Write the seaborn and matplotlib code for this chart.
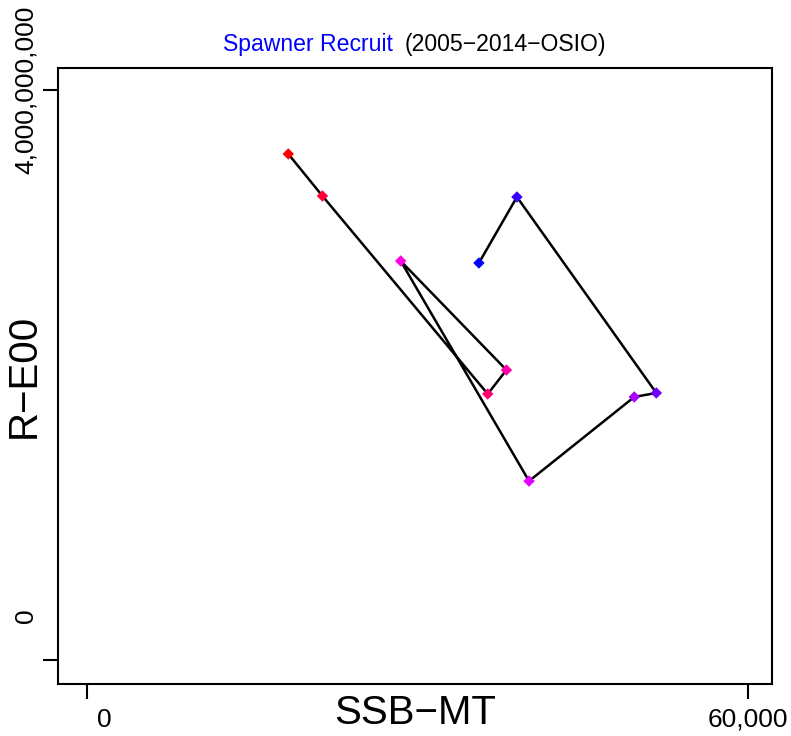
import numpy as np
import pandas as pd
import matplotlib
matplotlib.use("Agg")
import matplotlib.pyplot as plt
import matplotlib.transforms as mtransforms
import seaborn as sns

# donnees (2005-2014)
years = [2005, 2006, 2007, 2008, 2009, 2010, 2011, 2012, 2013, 2014]
ssb = [18300, 21400, 36400, 38100, 28500, 40150, 49700, 51700, 39050, 35600]
recruits = [3.551e9, 3.256e9, 1.867e9, 2.035e9, 2.800e9, 1.256e9, 1.846e9, 1.874e9, 3.249e9, 2.786e9]
year_colors = ["#FF0000", "#FF0038", "#FF0071", "#FF00AA", "#FF00E2",
               "#E200FF", "#AA00FF", "#7100FF", "#3800FF", "#0000FF"]

x_ticks = [0, 60000]
x_tick_labels = ["0", "60,000"]
y_ticks = [0, 4e9]
y_tick_labels = ["0", "4,000,000,000"]

df = pd.DataFrame({"year": years, "ssb": ssb, "rec": recruits})

sns.set_style("white")
plt.rcParams['font.family'] = ['Liberation Sans', 'DejaVu Sans']
plt.rcParams['text.color'] = 'black'
plt.rcParams['axes.labelcolor'] = 'black'

fig = plt.figure(figsize=(7.91, 7.36), dpi=100)
ax = fig.add_axes([58 / 791, 1 - 684 / 736, 714 / 791, 616 / 736])

sns.lineplot(data=df, x="ssb", y="rec", sort=False, estimator=None,
             color="black", lw=1.8, ax=ax)
sns.scatterplot(data=df, x="ssb", y="rec", hue="year",
                palette=dict(zip(years, year_colors)), marker="D", s=34,
                linewidth=0, legend=False, ax=ax, zorder=3)

ax.set_xlim(-2600, 62200)
ax.set_ylim(-0.168e9, 4.154e9)

for sp in ax.spines.values():
    sp.set_visible(True)
    sp.set_color("black")
    sp.set_linewidth(1.5)

ax.set_xticks(x_ticks)
ax.set_yticks(y_ticks)
ax.set_xticklabels([])
ax.set_yticklabels([])
ax.tick_params(axis="both", direction="out", length=11, width=1.5,
               color="black", bottom=True, left=True)

# etiquettes des graduations (placees comme dans R)
xt = ax.get_xaxis_transform()
yt = ax.get_yaxis_transform()
off = mtransforms.offset_copy(xt, fig=fig, x=10, y=-24, units="dots")
ax.text(x_ticks[0], 0, x_tick_labels[0], transform=off, ha="left", va="top",
        fontsize=19, color="black")
off = mtransforms.offset_copy(xt, fig=fig, x=0, y=-24, units="dots")
ax.text(x_ticks[1], 0, x_tick_labels[1], transform=off, ha="center", va="top",
        fontsize=19, color="black")
off = mtransforms.offset_copy(yt, fig=fig, x=-20, y=44, units="dots")
ax.text(0, y_ticks[0], y_tick_labels[0], transform=off, ha="right", va="center",
        rotation=90, fontsize=19, color="black")
off = mtransforms.offset_copy(yt, fig=fig, x=-20, y=0, units="dots")
ax.text(0, y_ticks[1], y_tick_labels[1], transform=off, ha="right", va="center",
        rotation=90, fontsize=19, color="black")

ax.set_xlabel("SSB\u2212MT", fontsize=29, color="black")
ax.set_ylabel("R\u2212E00", fontsize=29, color="black")
ax.xaxis.set_label_coords(0.5, -0.016)
ax.yaxis.set_label_coords(-0.022, 0.5)

# titre en deux couleurs
fig.text(223 / 791, 1 - 51 / 736, "Spawner Recruit", color="blue",
         fontsize=16.6, ha="left", va="baseline")
fig.text(405 / 791, 1 - 51 / 736, "(2005\u22122014\u2212OSIO)", color="black",
         fontsize=16.6, ha="left", va="baseline")

fig.savefig("out.png", dpi=100)
